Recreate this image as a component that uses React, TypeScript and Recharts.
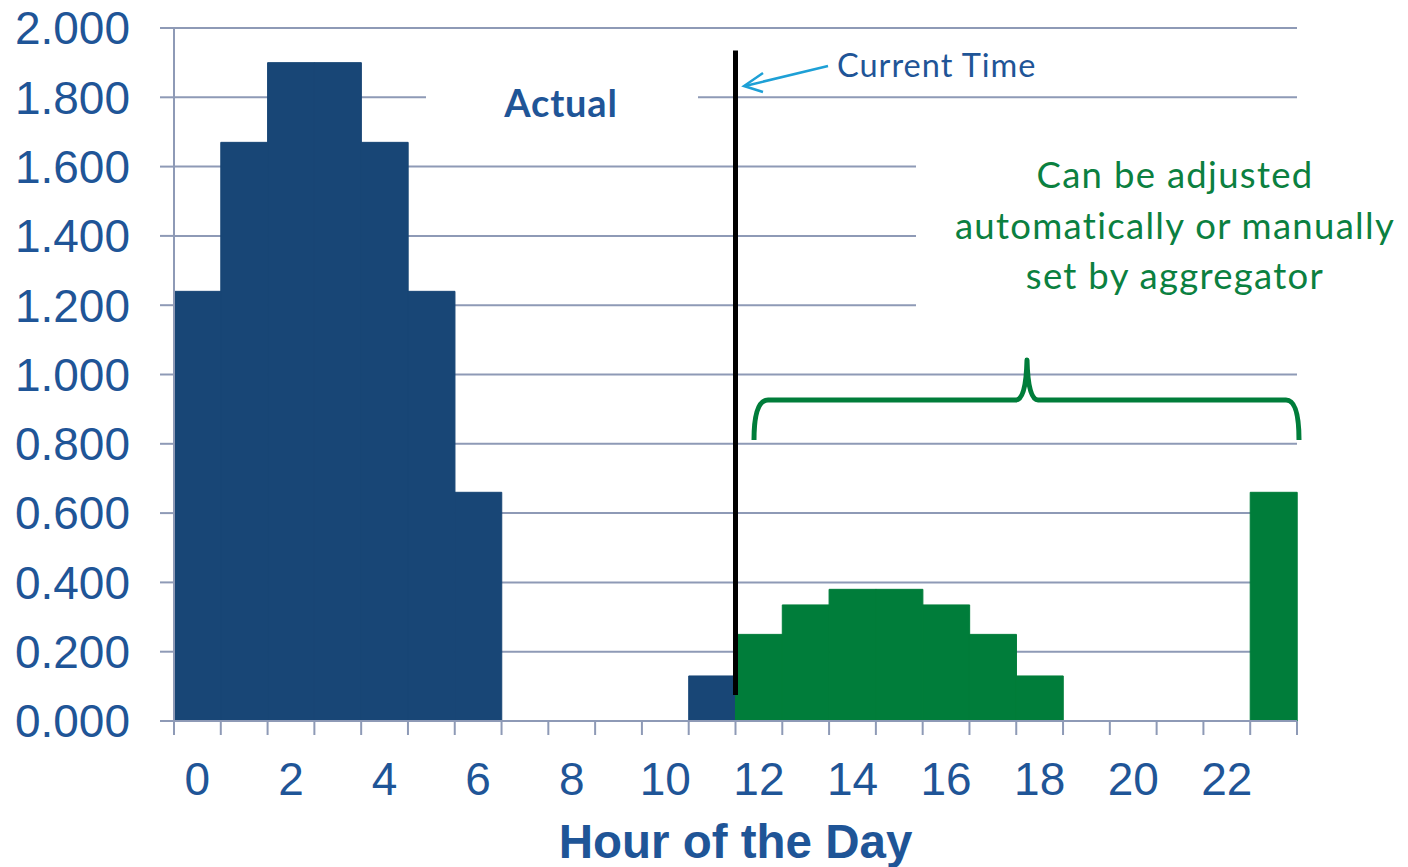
import { BarChart, Bar, XAxis, YAxis, CartesianGrid, ReferenceLine } from "recharts";

const hours = [0, 1, 2, 3, 4, 5, 6, 7, 8, 9, 10, 11, 12, 13, 14, 15, 16, 17, 18, 19, 20, 21, 22, 23];
const actual = [1.24, 1.67, 1.9, 1.9, 1.67, 1.24, 0.66, 0, 0, 0, 0, 0.13, 0, 0, 0, 0, 0, 0, 0, 0, 0, 0, 0, 0];
const adjusted = [0, 0, 0, 0, 0, 0, 0, 0, 0, 0, 0, 0, 0.25, 0.335, 0.38, 0.38, 0.335, 0.25, 0.13, 0, 0, 0, 0, 0.66];
const yTicks = [0, 0.2, 0.4, 0.6, 0.8, 1.0, 1.2, 1.4, 1.6, 1.8, 2.0];
const currentHour = "12";
const currentTimeSpan = [0.075, 1.935];

const data = hours.map((h, i) => ({ hour: String(h), actual: actual[i], adjusted: adjusted[i] }));

const AXIS = "#8E9AB6";
const NAVY = "#1F5597";
const BLUE_BAR = "#184676";
const GREEN_BAR = "#007D3A";
const GREEN_TEXT = "#0B8040";
const CALIBRI = "Lato, 'Open Sans', sans-serif";
const ARIAL = "'Liberation Sans', Arial, sans-serif";
const TICK_GAP = 41;

// tick marks sit on the hour boundaries, labels on every second hour centre
const HourTick = (props: any) => {
  const { x, y, payload, index, visibleTicksCount } = props;
  const half = payload && payload.offset > 0 ? payload.offset : 23.4;
  const top = y - TICK_GAP;
  return (
    <g>
      <line x1={x - half} x2={x - half} y1={top} y2={top + 14} stroke={AXIS} strokeWidth={2} />
      {index === visibleTicksCount - 1 && (
        <line x1={x + half} x2={x + half} y1={top} y2={top + 14} stroke={AXIS} strokeWidth={2} />
      )}
      {index % 2 === 0 && (
        <text x={x} y={y} dy="0.71em" textAnchor="middle" fontSize={46} fontFamily={ARIAL} fill={NAVY}>
          {payload.value}
        </text>
      )}
    </g>
  );
};

// annotations drawn on top: text boxes (they blank out the grid behind them), arrow, brace
const Notes = () => (
  <svg width={1408} height={867} style={{ position: "absolute", left: 0, top: 0, pointerEvents: "none" }}>
    <rect x={426} y={84} width={272} height={30} fill="#fff" />
    <text x={561} y={117} textAnchor="middle" fontFamily={CALIBRI} fontWeight={700} fontSize={38} letterSpacing={0.8} fill={NAVY}>
      Actual
    </text>

    <line x1={828} y1={66} x2={745} y2={86} stroke="#1EA0D6" strokeWidth={2.5} />
    <polyline points="763,73 744,86 763,92" fill="none" stroke="#1EA0D6" strokeWidth={2.5} />
    <text x={837} y={77} fontFamily={CALIBRI} fontSize={32.5} letterSpacing={1} fill={NAVY}>
      Current Time
    </text>

    <rect x={916} y={150} width={390} height={170} fill="#fff" />
    <text textAnchor="middle" fontFamily={CALIBRI} fontSize={36.5} letterSpacing={1.3} fill={GREEN_TEXT}>
      <tspan x={1175} y={188}>Can be adjusted</tspan>
      <tspan x={1175} y={239}>automatically or manually</tspan>
      <tspan x={1175} y={289}>set by aggregator</tspan>
    </text>

    <path
      d="M754,440 Q754,400 768,400 L1016,400 Q1026,400 1027,360 Q1028,400 1038,400 L1286,400 Q1299,400 1299,440"
      fill="none"
      stroke={GREEN_BAR}
      strokeWidth={5}
      strokeLinejoin="round"
    />
  </svg>
);

export default function App() {
  return (
    <div style={{ position: "absolute", left: 0, top: 0, width: 1408, height: 867, background: "#fff" }}>
      <BarChart
        width={1408}
        height={867}
        data={data}
        margin={{ top: 28, right: 111, bottom: 0, left: 0 }}
        barCategoryGap={0}
        barGap={0}
      >
        <CartesianGrid vertical={false} stroke={AXIS} strokeWidth={2} />
        <XAxis
          dataKey="hour"
          interval={0}
          height={146}
          axisLine={{ stroke: AXIS, strokeWidth: 2 }}
          tickLine={false}
          tickSize={0}
          tickMargin={TICK_GAP}
          tick={<HourTick />}
          label={{
            value: "Hour of the Day",
            position: "insideBottom",
            offset: 9,
            style: { fontSize: 47.5, fontWeight: 700, fontFamily: ARIAL, fill: NAVY },
          }}
        />
        <YAxis
          width={174}
          domain={[0, 2]}
          ticks={yTicks}
          interval={0}
          tickFormatter={(v: number) => v.toFixed(3)}
          tickSize={14}
          tickMargin={30}
          tick={{ fontSize: 46, fontFamily: ARIAL, fill: NAVY }}
          axisLine={{ stroke: AXIS, strokeWidth: 2 }}
          tickLine={{ stroke: AXIS, strokeWidth: 2 }}
        />
        <Bar dataKey="actual" stackId="day" fill={BLUE_BAR} stroke={BLUE_BAR} strokeWidth={1} isAnimationActive={false} />
        <Bar dataKey="adjusted" stackId="day" fill={GREEN_BAR} stroke={GREEN_BAR} strokeWidth={1} isAnimationActive={false} />
        <ReferenceLine
          position="start"
          segment={[
            { x: currentHour, y: currentTimeSpan[0] },
            { x: currentHour, y: currentTimeSpan[1] },
          ]}
          stroke="#000"
          strokeWidth={5}
          ifOverflow="visible"
        />
      </BarChart>
      <Notes />
    </div>
  );
}
